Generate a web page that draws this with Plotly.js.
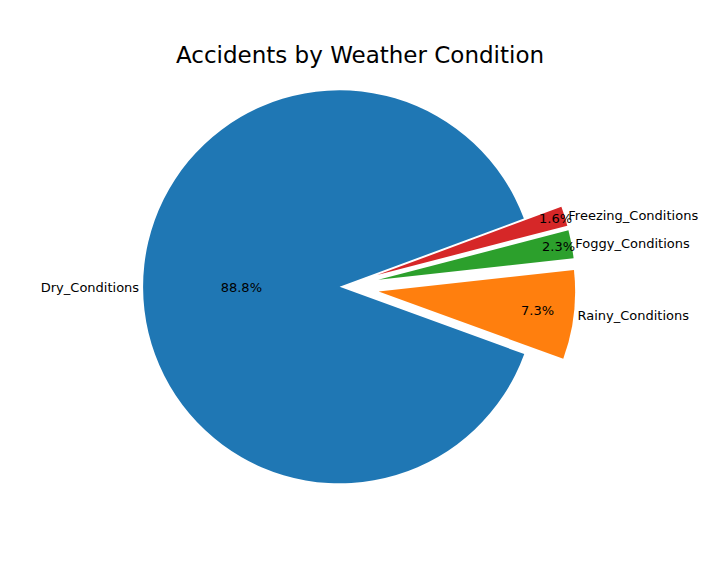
<!DOCTYPE html>
<html>
<head>
<meta charset="utf-8">
<script src="https://cdn.plot.ly/plotly-3.0.1.min.js"></script>
<style>body{margin:0;background:#fff}</style>
</head>
<body>
<div id="chart" style="width:720px;height:576px"></div>
<script>
const labels = ["Dry_Conditions", "Rainy_Conditions", "Foggy_Conditions", "Freezing_Conditions"];
const shares = [88.8, 7.3, 2.3, 1.6];
const colors = ["#1f77b4", "#ff7f0e", "#2ca02c", "#d62728"];
const explode = [0, 0.2, 0.2, 0.2];

const common = {
    type: "pie",
    labels: labels,
    values: shares,
    sort: false,
    direction: "counterclockwise",
    rotation: 110,
    pull: explode,
    domain: { x: [0.123, 0.817], y: [0.084, 0.998] },
    hoverinfo: "none",
    showlegend: false
};

const data = [
    Object.assign({}, common, {
        marker: { colors: colors, line: { width: 0 } },
        textinfo: "percent",
        texttemplate: "%{percent:.1%}",
        textposition: "inside",
        insidetextorientation: "horizontal",
        textfont: { family: "DejaVu Sans", size: 13, color: "#000" }
    }),
    Object.assign({}, common, {
        marker: { colors: labels.map(() => "rgba(0,0,0,0)"), line: { width: 0 } },
        textinfo: "label",
        textposition: "outside",
        automargin: false,
        outsidetextfont: { family: "DejaVu Sans", size: 13, color: "#000" }
    })
];

const layout = {
    width: 720,
    height: 576,
    margin: { t: 50, b: 10, l: 20, r: 20 },
    paper_bgcolor: "#fff",
    uniformtext: { minsize: 12, mode: "show" },
    title: {
        text: "Accidents by Weather Condition",
        x: 0.5,
        y: 0.905,
        yanchor: "middle",
        font: { family: "DejaVu Sans", size: 23, color: "#000" }
    }
};

Plotly.newPlot("chart", data, layout, { displayModeBar: false });
</script>
</body>
</html>
